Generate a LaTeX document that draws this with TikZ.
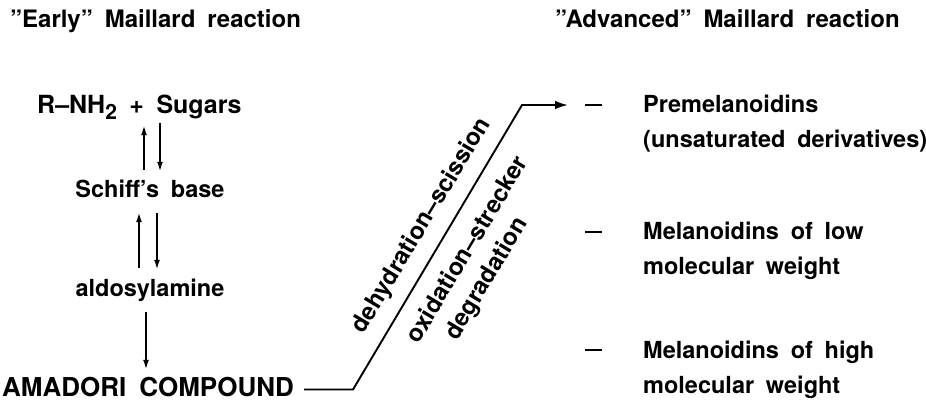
\documentclass[tikz,border=0pt]{standalone}
\usepackage{fontspec}
\setmainfont{TeX Gyre Heros}[WordSpace=1.8]
\usetikzlibrary{arrows.meta}

\begin{document}
\begin{tikzpicture}[x=1pt,y=-1pt,
  txt/.style={inner sep=0pt, text height=18pt, text depth=5pt, font=\bfseries\fontsize{23.5}{23.5}\selectfont},
  head/.style={txt, anchor=base west, font=\bfseries\fontsize{24}{24}\selectfont},
  slant/.style={inner sep=0pt, rotate=59, font=\bfseries\fontsize{24}{24}\selectfont},
  arr/.style={line width=1.9pt, -{Latex[length=10pt,width=6pt]}},
  conn/.style={line width=1.9pt, line join=miter, -{Latex[length=13pt,width=8.5pt]}},
  dashmark/.style={inner sep=0pt, anchor=west}
]
\useasboundingbox (0,0) rectangle (926,403);

% column headings
\node[head] (early) at (10,28) {"Early" Maillard reaction};
\node[head] (adv) at (555,28) {"Advanced" Maillard reaction};

% early stage, top to bottom
\node[txt, anchor=base west, font=\bfseries\fontsize{25}{25}\selectfont] (rnh) at (37,114)
  {R–NH\raisebox{-6pt}{\fontsize{21}{21}\selectfont 2} + Sugars};
\node[txt, anchor=base] (schiff) at (150,198) {Schiff’s base};
\node[txt, anchor=base] (aldo) at (150,297) {aldosylamine};
\node[txt, anchor=base west, font=\bfseries\fontsize{26}{26}\selectfont] (amadori) at (2,396) {AMADORI COMPOUND};

% reversible steps
\draw[arr, shorten <=10pt, shorten >=6pt] ([xshift=-6pt]schiff.north) -- ([xshift=-6pt]schiff.north |- rnh.south);
\draw[arr, shorten <=4pt, shorten >=8pt] ([xshift=10pt]schiff.north |- rnh.south) -- ([xshift=10pt]schiff.north);
\draw[arr, shorten <=11pt, shorten >=9pt] ([xshift=-11pt]aldo.north) -- ([xshift=-11pt]aldo.north |- schiff.south);
\draw[arr, shorten <=10pt, shorten >=9pt] ([xshift=7pt]aldo.north |- schiff.south) -- ([xshift=7pt]aldo.north);
% Amadori rearrangement
\draw[arr, shorten <=10pt, shorten >=8pt] ([xshift=-4pt]aldo.south) -- ([xshift=-4pt]aldo.south |- amadori.north);

% advanced stage products
\node[dashmark] (dash1) at (585,105) {\rule{17pt}{2pt}};
\node[dashmark] (dash2) at (585,232) {\rule{17pt}{2pt}};
\node[dashmark] (dash3) at (585,350) {\rule{17pt}{2pt}};

\node[txt, anchor=base west] (prem) at (643,113) {Premelanoidins};
\node[txt, anchor=base west] (premb) at (643,148) {(unsaturated derivatives)};
\node[txt, anchor=base west] (low) at (643,240) {Melanoidins of low};
\node[txt, anchor=base west] (lowb) at (643,275) {molecular weight};
\node[txt, anchor=base west] (high) at (643,358) {Melanoidins of high};
\node[txt, anchor=base west] (highb) at (643,393) {molecular weight};

% pathway from the Amadori compound
\coordinate (bend1) at (353,389);
\coordinate (bend2) at (522,105);
\draw[conn, shorten >=17pt] ([xshift=10pt]amadori.east) -- (amadori.east -| bend1) -- (bend2) -- (dash1.west);

\node[slant] (dehyd) at (422,226) {dehydration–scission};
\node[slant] (oxid) at (466,249) {oxidation–strecker};
\node[slant] (degr) at (487,279) {degradation};
\end{tikzpicture}
\end{document}
